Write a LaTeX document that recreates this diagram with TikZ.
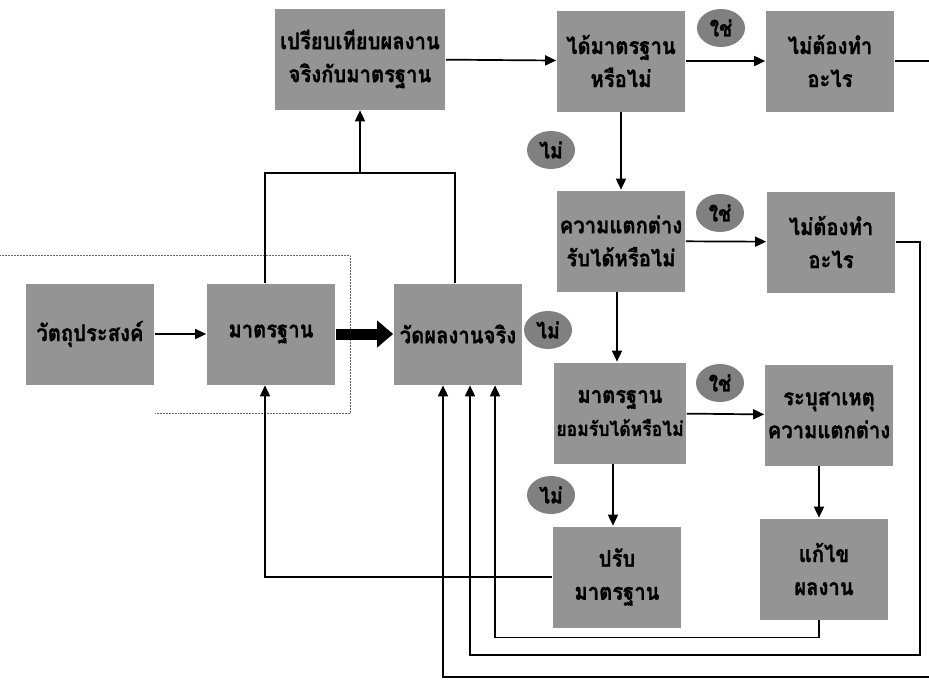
\documentclass[tikz,border=0pt]{standalone}
\usepackage{fontspec}
\newfontfamily\thaifont[Script=Thai, FakeStretch=0.88, FakeBold=1]{Loma}
\usetikzlibrary{shapes.geometric,arrows.meta}

\begin{document}
\begin{tikzpicture}[x=1pt, y=-1pt, line width=1.7pt,
    box/.style={fill=black!42, minimum width=128pt, minimum height=101pt, inner sep=2pt, align=center,
        font=\thaifont\bfseries\fontsize{23}{33}\selectfont},
    oval/.style={ellipse, fill=black!50, minimum width=48pt, minimum height=38pt, inner sep=0pt,
        font=\thaifont\bfseries\fontsize{22}{22}\selectfont},
    arr/.style={-{Triangle[length=11pt, width=10pt]}}]
    \useasboundingbox (0,0) rectangle (929,681);

    % boxes of the control process
    \node[box] (goal) at (90,334) {วัตถุประสงค์};
    \node[box] (std) at (271,334) {มาตรฐาน};
    \node[box] (meas) at (458,334) {วัดผลงานจริง};
    \node[box, minimum width=170pt] (cmp) at (360,59) {เปรียบเทียบผลงาน\\จริงกับมาตรฐาน};
    \node[box] (meet) at (621,61) {ได้มาตรฐาน\\หรือไม่};
    \node[box] (none1) at (830,61) {ไม่ต้องทำ\\อะไร};
    \node[box] (diff) at (621,241) {ความแตกต่าง\\รับได้หรือไม่};
    \node[box] (none2) at (831,242) {ไม่ต้องทำ\\อะไร};
    \node[box] (stdok) at (620,413) {มาตรฐาน\\{\fontsize{20}{33}\selectfont ยอมรับได้หรือไม่}};
    \node[box] (cause) at (829,415) {ระบุสาเหตุ\\ความแตกต่าง};
    \node[box] (adj) at (617,577) {ปรับ\\มาตรฐาน};
    \node[box] (fix) at (824,569) {แก้ไข\\ผลงาน};

    % yes / no labels
    \node[oval] (yes1) at (721,28) {ใช่};
    \node[oval] (yes2) at (720,213) {ใช่};
    \node[oval] (yes3) at (720,383) {ใช่};
    \node[oval] (no1) at (551,150) {ไม่};
    \node[oval] (no2) at (548,330) {ไม่};
    \node[oval] (no3) at (551,495) {ไม่};

    % free ends and corners
    \coordinate (fork) at (360,173);
    \coordinate (edge1) at (929,61);
    \coordinate (edge2) at (929,677);
    \coordinate (turn) at (920,655);

    % dotted bracket round the standard
    \draw[line width=0.5pt, densely dotted, black!60] (0,255) -| (350,413) -- (155,413);

    % main flow
    \draw[arr] (goal) -- (std);
    \draw[line width=11pt, -{Triangle[length=16pt, width=26pt]}] (std) -- (meas);
    \draw ([xshift=-6pt]std.north) |- (fork) -| ([xshift=-3pt]meas.north);
    \draw[arr] (fork) -- (cmp);
    \draw[arr] (cmp) -- (meet);
    \draw[arr] (meet) -- (none1);
    \draw (none1) -- (edge1);
    \draw[arr] (meet) -- (diff);
    \draw[arr] (diff) -- (none2);
    \draw[arr] ([xshift=-4pt]diff.south) -- ([xshift=-3pt]stdok.north);
    \draw[arr] (stdok) -- (cause);
    \draw[arr] ([xshift=-7pt]stdok.south) -- ([xshift=-4pt]adj.north);
    \draw[arr] ([xshift=-10pt]cause.south) -- ([xshift=-5pt]fix.north);

    % feedback lines
    \draw[arr] (adj.west) -| ([xshift=-6pt]std.south);
    \draw[arr] ([xshift=-5pt]fix.south) -- ++(0,17) -| ([xshift=37pt]meas.south);
    \draw[arr] (none2.east) -| (turn) -| ([xshift=12pt]meas.south);
    \draw[arr] (edge2) -| ([xshift=-15pt]meas.south);
\end{tikzpicture}
\end{document}
